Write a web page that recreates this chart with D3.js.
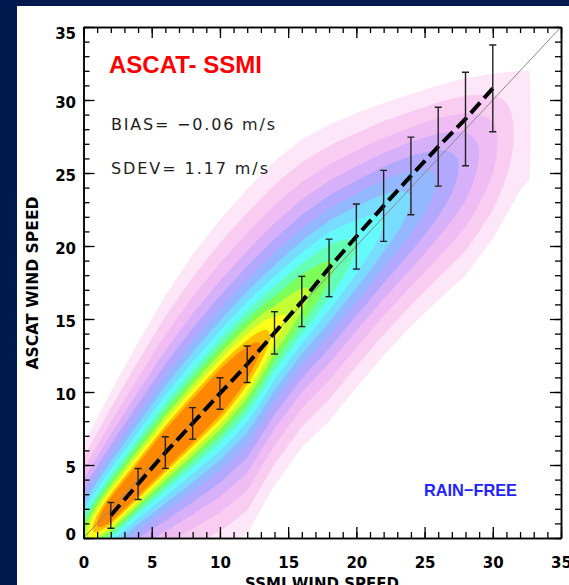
<!DOCTYPE html>
<html>
<head>
<meta charset="utf-8">
<script src="https://cdn.jsdelivr.net/npm/d3@7"></script>
<style>
  html, body { margin: 0; padding: 0; background: #001a4f; overflow: hidden; }
  svg { display: block; }
</style>
</head>
<body>
<script>
// ---- values ----

// error bars: mean ASCAT speed and +/- 1 sdev for each 2 m/s SSMI bin
var binSSMI = [2, 4, 6, 8, 10, 12, 14, 16, 18, 20, 22, 24, 26, 28, 30];
var binMean = [1.55, 3.7, 5.85, 7.85, 9.9, 11.9, 14.05, 16.2, 18.5, 20.65, 22.75, 24.8, 26.8, 28.7, 30.8];
var binSdev = [0.88, 1.06, 1.08, 1.08, 1.08, 1.25, 1.45, 1.72, 1.97, 2.23, 2.43, 2.66, 2.7, 3.2, 2.97];

// density background, one entry per SSMI column
var colSSMI   = [0, 2, 4, 6, 8, 10, 12, 14, 16, 18, 20, 22, 24, 26, 28, 30, 32, 34];
var colMode   = [0.0, 1.8, 3.8, 5.9, 7.9, 9.9, 12.0, 14.2, 16.3, 18.3, 20.0, 21.7, 23.2, 24.6, 25.8, 27.0, 28.0, 29.0];
var colPeak   = [11, 17, 19, 20, 20, 19, 15.5, 12.5, 11.3, 10.2, 9, 8, 7, 5.9, 4.7, 3.3, 1.6, 0];
var colTop    = [6.4, 10.0, 13.4, 16.6, 19.4, 21.8, 23.9, 25.8, 27.3, 28.3, 29.1, 29.8, 30.4, 31.0, 31.5, 31.8, 32.0, 32.0];
var colBottom = [-5, -4, -3, -2.5, -1.8, -1.0, 0.3, 3.6, 6.2, 8.0, 10.3, 12.5, 14.5, 16.3, 18.0, 20.5, 23.8, 26];

// colour levels, faintest first
var levelColors = ["#fde6f7", "#f9cdf1", "#efbdf4", "#d6b0f8", "#b2a8fd", "#94b8ff", "#78dcff",
                   "#64fafa", "#64ffb4", "#7cff58", "#c4ff34", "#ffff1a", "#ffbe00", "#ff8800"];

var axisTicks = [0, 5, 10, 15, 20, 25, 30, 35];
var minorTicks = d3.range(0, 36);
var oneToOne = [0, 35];

var title = "ASCAT- SSMI";
var statLines = ["BIAS= \u22120.06 m/s", "SDEV= 1.17 m/s"];
var tag = "RAIN\u2212FREE";

// ---- layout ----
var width = 569, height = 585;
var plotL = 83.5, plotR = 561, plotT = 27, plotB = 538;

var svg = d3.select("body").append("svg").attr("width", width).attr("height", height);

svg.append("rect").attr("x", 17).attr("y", 6)
    .attr("width", width - 17).attr("height", height - 6).attr("fill", "white");

var x = d3.scaleLinear().domain([0, 35]).range([plotL, plotR]);
var y = d3.scaleLinear().domain([0, 35]).range([plotB, plotT]);

svg.append("clipPath").attr("id", "plot-clip")
    .append("rect").attr("x", plotL).attr("y", plotT)
    .attr("width", plotR - plotL).attr("height", plotB - plotT);

var plot = svg.append("g").attr("clip-path", "url(#plot-clip)");

// ---- density field built from the column values ----
var step = 0.1, nx = 361, ny = 361, b = 3.5;
var modeAt = d3.scaleLinear().domain(colSSMI).range(colMode).clamp(true);
var peakAt = d3.scaleLinear().domain(colSSMI).range(colPeak).clamp(true);
var topAt = d3.scaleLinear().domain(colSSMI).range(colTop).clamp(true);
var botAt = d3.scaleLinear().domain(colSSMI).range(colBottom).clamp(true);

var values = new Float64Array(nx * ny);
for (var i = 0; i < nx; i++) {
    var xv = i * step;
    var c = modeAt(xv), p = peakAt(xv);
    var k = Math.sqrt(Math.max(Math.exp((p - 1) / b) - 1, 1e-6));
    var sUp = Math.max(topAt(xv) - c, 0.1) / k;
    var sDn = Math.max(c - botAt(xv), 0.1) / k;
    for (var j = 0; j < ny; j++) {
        var d = j * step - c;
        var s = d >= 0 ? sUp : sDn;
        values[j * nx + i] = p - b * Math.log(1 + (d / s) * (d / s));
    }
}

var contours = d3.contours().size([nx, ny]).thresholds(d3.range(1, 15))(values);

var gridToPlot = d3.geoTransform({
    point: function (u, v) {
        this.stream.point(x((u - 0.5) * step), y((v - 0.5) * step));
    }
});

plot.selectAll("path.level").data(contours).enter().append("path")
    .attr("class", "level")
    .attr("d", d3.geoPath(gridToPlot))
    .attr("fill", function (d, i) { return levelColors[i]; });

// 1:1 line
plot.append("path").datum(oneToOne)
    .attr("d", d3.line().x(function (d) { return x(d); }).y(function (d) { return y(d); }))
    .attr("fill", "none").attr("stroke", "#8a8a8a").attr("stroke-width", 1);

// dashed mean line
plot.append("path").datum(binSSMI)
    .attr("d", d3.line()
        .x(function (d) { return x(d); })
        .y(function (d, i) { return y(binMean[i]); }))
    .attr("fill", "none").attr("stroke", "black").attr("stroke-width", 4)
    .attr("stroke-dasharray", "14,6");

// error bars
var bars = plot.selectAll("g.bar").data(binSSMI).enter().append("g").attr("class", "bar")
    .attr("stroke", "#222").attr("stroke-width", 1.4);
bars.append("line")
    .attr("x1", function (d) { return x(d); }).attr("x2", function (d) { return x(d); })
    .attr("y1", function (d, i) { return y(binMean[i] - binSdev[i]); })
    .attr("y2", function (d, i) { return y(binMean[i] + binSdev[i]); });
bars.append("line")
    .attr("x1", function (d) { return x(d) - 3.5; }).attr("x2", function (d) { return x(d) + 3.5; })
    .attr("y1", function (d, i) { return y(binMean[i] - binSdev[i]); })
    .attr("y2", function (d, i) { return y(binMean[i] - binSdev[i]); });
bars.append("line")
    .attr("x1", function (d) { return x(d) - 3.5; }).attr("x2", function (d) { return x(d) + 3.5; })
    .attr("y1", function (d, i) { return y(binMean[i] + binSdev[i]); })
    .attr("y2", function (d, i) { return y(binMean[i] + binSdev[i]); });

// ---- axes, ticks pointing in on all four sides ----
function styleAxis(g) {
    g.selectAll("path.domain").attr("stroke", "black").attr("stroke-width", 1.5);
    g.selectAll(".tick line").attr("stroke", "black").attr("stroke-width", 1.3);
    g.selectAll("text").attr("fill", "black")
        .style("font-family", "'DejaVu Sans'").style("font-weight", "bold").style("font-size", "15px");
}

var sides = [
    { axis: d3.axisBottom, pos: "translate(0," + plotB + ")", scale: x, labels: true },
    { axis: d3.axisTop, pos: "translate(0," + plotT + ")", scale: x, labels: false },
    { axis: d3.axisLeft, pos: "translate(" + plotL + ",0)", scale: y, labels: true },
    { axis: d3.axisRight, pos: "translate(" + plotR + ",0)", scale: y, labels: false }
];

sides.forEach(function (s) {
    svg.append("g").attr("transform", s.pos)
        .call(s.axis(s.scale).tickValues(minorTicks).tickSize(-6).tickSizeOuter(0).tickFormat(""))
        .call(styleAxis);
    var major = svg.append("g").attr("transform", s.pos)
        .call(s.axis(s.scale).tickValues(axisTicks).tickSize(-11).tickSizeOuter(0)
            .tickFormat(s.labels ? d3.format("d") : ""))
        .call(styleAxis);
    if (s.axis === d3.axisBottom) {
        major.selectAll("text").attr("y", 30).attr("dy", 0);
    }
    if (s.axis === d3.axisLeft) {
        // labels sit a little below their tick, the end ones pulled inside the box
        major.selectAll("text").attr("x", -7.5)
            .attr("y", function (d) { return d === 35 ? 6 : (d === 0 ? -4 : 2); })
            .attr("dy", "0.36em");
    }
});

// axis titles
svg.append("text")
    .attr("transform", "translate(38," + 283 + ") rotate(-90)")
    .attr("text-anchor", "middle")
    .attr("textLength", 173).attr("lengthAdjust", "spacingAndGlyphs")
    .style("font-family", "'DejaVu Sans'").style("font-weight", "bold").style("font-size", "15px")
    .text("ASCAT WIND SPEED");

svg.append("text")
    .attr("x", 322).attr("y", 589)
    .attr("text-anchor", "middle")
    .style("font-family", "'DejaVu Sans'").style("font-weight", "bold").style("font-size", "15px")
    .text("SSMI WIND SPEED");

// annotations
svg.append("text")
    .attr("x", 109).attr("y", 73)
    .attr("textLength", 153).attr("lengthAdjust", "spacingAndGlyphs")
    .attr("fill", "#ff0000")
    .style("font-family", "'Liberation Sans'").style("font-weight", "bold").style("font-size", "24px")
    .text(title);

svg.selectAll("text.stat").data(statLines).enter().append("text")
    .attr("class", "stat")
    .attr("x", 111)
    .attr("y", function (d, i) { return 129.5 + i * 44; })
    .attr("textLength", function (d, i) { return i === 0 ? 164 : 157; })
    .attr("lengthAdjust", "spacing")
    .attr("fill", "#1e1e1e")
    .style("font-family", "'DejaVu Sans'").style("font-size", "16px")
    .text(function (d) { return d; });

svg.append("text")
    .attr("x", 424).attr("y", 496)
    .attr("textLength", 93).attr("lengthAdjust", "spacingAndGlyphs")
    .attr("fill", "#2323ff")
    .style("font-family", "'Liberation Sans'").style("font-weight", "bold").style("font-size", "17px")
    .text(tag);
</script>
</body>
</html>
